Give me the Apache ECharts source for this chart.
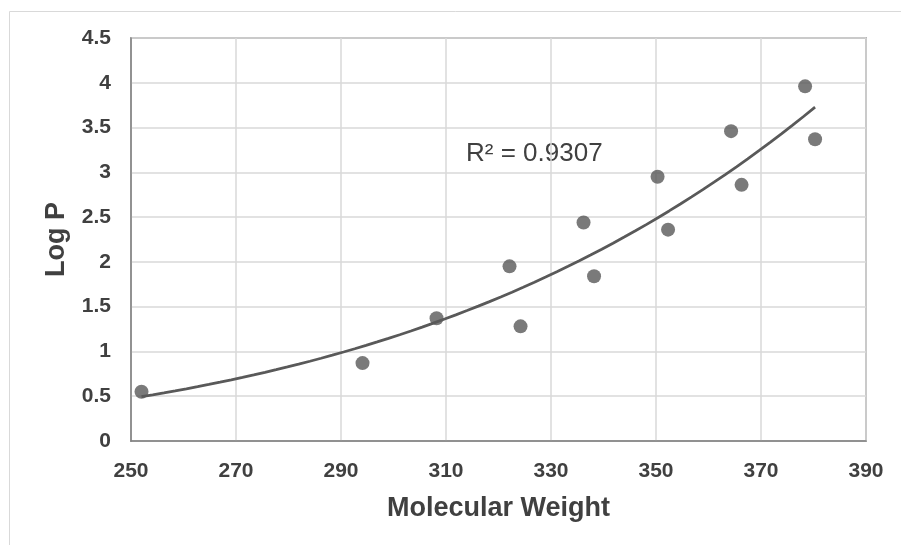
<!DOCTYPE html>
<html><head><meta charset="utf-8">
<script src="https://cdn.jsdelivr.net/npm/echarts@6/dist/echarts.min.js"></script>
<style>html,body{margin:0;padding:0;background:#fff}#c{width:901px;height:545px}</style>
</head><body><div id="c"></div>
<script>
const molecularWeight = [252.0, 294.1, 308.2, 322.1, 324.2, 336.2, 338.2, 350.3, 352.3, 364.3, 366.3, 378.4, 380.3];
const logP = [0.55, 0.87, 1.37, 1.95, 1.28, 2.44, 1.84, 2.95, 2.36, 3.46, 2.86, 3.96, 3.37];
const rSquaredLabel = 'R² = 0.9307';

// Power trendline fitted (least squares on ln-ln) to the data
const n = molecularWeight.length;
let sx=0, sy=0, sxx=0, sxy=0;
for (let i=0;i<n;i++){const lx=Math.log(molecularWeight[i]), ly=Math.log(logP[i]); sx+=lx; sy+=ly; sxx+=lx*lx; sxy+=lx*ly;}
const b = (n*sxy - sx*sy)/(n*sxx - sx*sx);
const a = Math.exp((sy - b*sx)/n);
const xMin = Math.min(...molecularWeight), xMax = Math.max(...molecularWeight);
const trend = [];
for (let k=0;k<=60;k++){const x = xMin + (xMax-xMin)*k/60; trend.push([x, a*Math.pow(x,b)]);}

const chart = echarts.init(document.getElementById('c'));
const font = 'Liberation Sans, Arial, sans-serif';
chart.setOption({
  animation:false,
  grid:{left:131, top:38, right:35, bottom:104, show:true, borderColor:'#7f7f7f', borderWidth:1.5, containLabel:false},
  graphic:[
    {type:'rect', shape:{x:9.5,y:11.5,width:1000,height:1000}, style:{fill:'none', stroke:'#d9d9d9', lineWidth:1}, z:-10},
    {type:'text', left:466, top:141, style:{text:rSquaredLabel, font:'26px '+font, fill:'#404040'}}
  ],
  xAxis:{type:'value', min:250, max:390, interval:20,
    name:'Molecular Weight', nameLocation:'middle', nameGap:54,
    nameTextStyle:{fontFamily:font, fontWeight:'bold', fontSize:27, color:'#404040'},
    axisLine:{show:true, lineStyle:{color:'#7f7f7f', width:1.5}}, axisTick:{show:false},
    axisLabel:{fontFamily:font, fontWeight:'bold', fontSize:21, color:'#404040', margin:20},
    splitLine:{show:true, lineStyle:{color:'#d9d9d9', width:1.5}}},
  yAxis:{type:'value', min:0, max:4.5, interval:0.5,
    name:'Log P', nameLocation:'middle', nameGap:61,
    nameTextStyle:{fontFamily:font, fontWeight:'bold', fontSize:27, color:'#404040'},
    axisLine:{show:true, lineStyle:{color:'#7f7f7f', width:1.5}}, axisTick:{show:false},
    axisLabel:{fontFamily:font, fontWeight:'bold', fontSize:21, color:'#404040', margin:20},
    splitLine:{show:true, lineStyle:{color:'#d9d9d9', width:1.5}}},
  series:[
    {type:'line', data:trend, showSymbol:false, symbol:'none', lineStyle:{color:'#595959', width:2.75}, z:2},
    {type:'scatter', data:molecularWeight.map((x,i)=>[x,logP[i]]), symbolSize:14, itemStyle:{color:'#595959'}, z:3}
  ]
});
</script></body></html>
